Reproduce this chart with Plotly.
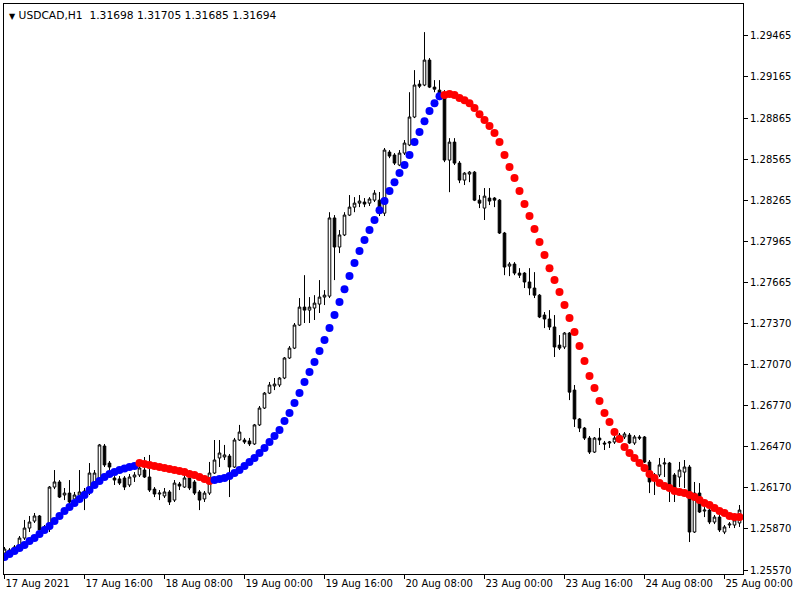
import plotly.graph_objects as go

# ---- data (USDCAD H1, bars indexed from 17 Aug 2021 00:00) ----
opens = [1.25694, 1.25716, 1.25709, 1.25730, 1.25803, 1.25876, 1.25927, 1.25964, 1.25862, 1.25869,
         1.26175, 1.26212, 1.26117, 1.26131, 1.26088, 1.26117, 1.26131, 1.26139, 1.26212, 1.26212,
         1.26474, 1.26350, 1.26241, 1.26234, 1.26241, 1.26190, 1.26248, 1.26263, 1.26299, 1.26248,
         1.26160, 1.26124, 1.26110, 1.26139, 1.26080, 1.26197, 1.26175, 1.26241, 1.26212, 1.26139,
         1.26088, 1.26131, 1.26277, 1.26387, 1.26394, 1.26401, 1.26321, 1.26518, 1.26518, 1.26511,
         1.26489, 1.26628, 1.26751, 1.26860, 1.26912, 1.26919, 1.26970, 1.27116, 1.27188, 1.27356,
         1.27487, 1.27465, 1.27480, 1.27509, 1.27560, 1.27567, 1.28137, 1.27925, 1.28013, 1.28158,
         1.28216, 1.28245, 1.28253, 1.28245, 1.28267, 1.28267, 1.28172, 1.28617, 1.28596, 1.28523,
         1.28610, 1.28669, 1.28873, 1.29113, 1.29106, 1.29288, 1.29091, 1.29069, 1.29047, 1.28559,
         1.28690, 1.28537, 1.28413, 1.28457, 1.28471, 1.28267, 1.28209, 1.28282, 1.28282, 1.28267,
         1.28027, 1.27786, 1.27801, 1.27735, 1.27735, 1.27670, 1.27626, 1.27574, 1.27429, 1.27400,
         1.27342, 1.27210, 1.27196, 1.27298, 1.26882, 1.26671, 1.26605, 1.26532, 1.26430, 1.26532,
         1.26496, 1.26496, 1.26503, 1.26532, 1.26540, 1.26554, 1.26496, 1.26540, 1.26540, 1.26357,
         1.26241, 1.26263, 1.26343, 1.26350, 1.26263, 1.26248, 1.26284, 1.26321, 1.25847, 1.26131,
         1.26000, 1.26007, 1.25920, 1.25956, 1.25847, 1.25898, 1.25898, 1.25913]
highs = [1.25738, 1.25730, 1.25752, 1.25818, 1.25935, 1.25964, 1.25986, 1.25971, 1.25898, 1.26182,
         1.26299, 1.26226, 1.26168, 1.26226, 1.26139, 1.26299, 1.26168, 1.26350, 1.26299, 1.26489,
         1.26489, 1.26365, 1.26255, 1.26255, 1.26255, 1.26270, 1.26284, 1.26350, 1.26394, 1.26409,
         1.26175, 1.26153, 1.26168, 1.26153, 1.26226, 1.26212, 1.26263, 1.26299, 1.26226, 1.26153,
         1.26146, 1.26358, 1.26518, 1.26518, 1.26482, 1.26416, 1.26533, 1.26628, 1.26533, 1.26533,
         1.26635, 1.26766, 1.26868, 1.26941, 1.26970, 1.26977, 1.27123, 1.27203, 1.27371, 1.27553,
         1.27720, 1.27560, 1.27574, 1.27684, 1.27611, 1.28179, 1.28158, 1.28049, 1.28179, 1.28304,
         1.28289, 1.28304, 1.28282, 1.28289, 1.28340, 1.28326, 1.28647, 1.28632, 1.28610, 1.28632,
         1.28705, 1.29054, 1.29215, 1.29142, 1.29492, 1.29303, 1.29142, 1.29142, 1.29069, 1.28719,
         1.28719, 1.28552, 1.28471, 1.28479, 1.28479, 1.28304, 1.28355, 1.28355, 1.28289, 1.28275,
         1.28035, 1.27815, 1.27815, 1.27771, 1.27742, 1.27771, 1.27742, 1.27582, 1.27451, 1.27465,
         1.27429, 1.27283, 1.27305, 1.27305, 1.26919, 1.26678, 1.26613, 1.26547, 1.26540, 1.26605,
         1.26511, 1.26511, 1.26547, 1.26569, 1.26576, 1.26569, 1.26554, 1.26554, 1.26547, 1.26372,
         1.26277, 1.26387, 1.26387, 1.26358, 1.26277, 1.26358, 1.26372, 1.26336, 1.26212, 1.26204,
         1.26029, 1.26029, 1.25971, 1.25971, 1.25898, 1.25920, 1.25949, 1.26044]
lows = [1.25672, 1.25679, 1.25694, 1.25716, 1.25789, 1.25847, 1.25913, 1.25847, 1.25840, 1.25847,
        1.26160, 1.26095, 1.26080, 1.26051, 1.26044, 1.26058, 1.26007, 1.26117, 1.26197, 1.26204,
        1.26321, 1.26277, 1.26190, 1.26190, 1.26153, 1.26175, 1.26212, 1.26248, 1.26241, 1.26139,
        1.26102, 1.26080, 1.26095, 1.26044, 1.26066, 1.26153, 1.26168, 1.26153, 1.26117, 1.26007,
        1.26066, 1.26117, 1.26270, 1.26321, 1.26372, 1.26102, 1.26314, 1.26511, 1.26489, 1.26474,
        1.26482, 1.26620, 1.26744, 1.26853, 1.26882, 1.26904, 1.26962, 1.27109, 1.27181, 1.27349,
        1.27371, 1.27371, 1.27393, 1.27444, 1.27502, 1.27553, 1.27684, 1.27881, 1.28005, 1.28151,
        1.28179, 1.28216, 1.28216, 1.28224, 1.28253, 1.28151, 1.28151, 1.28573, 1.28523, 1.28515,
        1.28596, 1.28661, 1.28865, 1.29084, 1.29098, 1.29084, 1.29054, 1.28996, 1.28544, 1.28325,
        1.28523, 1.28391, 1.28377, 1.28398, 1.28260, 1.28209, 1.28122, 1.28231, 1.28216, 1.28020,
        1.27720, 1.27713, 1.27720, 1.27699, 1.27626, 1.27574, 1.27553, 1.27407, 1.27334, 1.27320,
        1.27123, 1.27174, 1.27181, 1.26809, 1.26613, 1.26576, 1.26518, 1.26416, 1.26423, 1.26482,
        1.26445, 1.26460, 1.26489, 1.26518, 1.26525, 1.26489, 1.26482, 1.26518, 1.26350, 1.26131,
        1.26117, 1.26248, 1.26248, 1.26066, 1.26066, 1.26175, 1.26168, 1.25774, 1.25840, 1.25986,
        1.25956, 1.25905, 1.25905, 1.25847, 1.25832, 1.25876, 1.25876, 1.25884]
closes = [1.25723, 1.25694, 1.25738, 1.25803, 1.25876, 1.25920, 1.25964, 1.25862, 1.25884, 1.26175,
          1.26212, 1.26102, 1.26131, 1.26066, 1.26117, 1.26139, 1.26146, 1.26277, 1.26277, 1.26482,
          1.26336, 1.26321, 1.26226, 1.26204, 1.26175, 1.26248, 1.26263, 1.26314, 1.26248, 1.26153,
          1.26124, 1.26131, 1.26139, 1.26066, 1.26204, 1.26182, 1.26241, 1.26168, 1.26131, 1.26080,
          1.26131, 1.26277, 1.26372, 1.26423, 1.26409, 1.26321, 1.26518, 1.26576, 1.26503, 1.26489,
          1.26628, 1.26751, 1.26860, 1.26919, 1.26926, 1.26970, 1.27116, 1.27188, 1.27356, 1.27487,
          1.27465, 1.27487, 1.27516, 1.27560, 1.27574, 1.28137, 1.27925, 1.28013, 1.28158, 1.28216,
          1.28245, 1.28260, 1.28238, 1.28275, 1.28318, 1.28172, 1.28632, 1.28588, 1.28537, 1.28610,
          1.28683, 1.28873, 1.29106, 1.29098, 1.29288, 1.29091, 1.29076, 1.29047, 1.28559, 1.28690,
          1.28537, 1.28413, 1.28464, 1.28471, 1.28267, 1.28245, 1.28296, 1.28260, 1.28267, 1.28027,
          1.27779, 1.27801, 1.27735, 1.27720, 1.27670, 1.27626, 1.27574, 1.27415, 1.27400, 1.27342,
          1.27196, 1.27188, 1.27298, 1.26867, 1.26671, 1.26605, 1.26532, 1.26430, 1.26532, 1.26518,
          1.26489, 1.26503, 1.26532, 1.26554, 1.26562, 1.26496, 1.26540, 1.26532, 1.26357, 1.26212,
          1.26263, 1.26336, 1.26350, 1.26190, 1.26168, 1.26299, 1.26321, 1.25847, 1.26131, 1.25993,
          1.26007, 1.25920, 1.25956, 1.25862, 1.25884, 1.25905, 1.25935, 1.26007]

ma_values = [1.25665, 1.25687, 1.25709, 1.25730, 1.25752, 1.25781, 1.25803, 1.25832, 1.25862, 1.25891,
             1.25927, 1.25964, 1.26000, 1.26029, 1.26058, 1.26088, 1.26117, 1.26153, 1.26190, 1.26219,
             1.26248, 1.26270, 1.26284, 1.26299, 1.26310, 1.26321, 1.26328,
             1.26350, 1.26343, 1.26336, 1.26328, 1.26321, 1.26314, 1.26306, 1.26299, 1.26292, 1.26284,
             1.26270, 1.26263, 1.26248, 1.26233, 1.26219,
             1.26226, 1.26233, 1.26241, 1.26255, 1.26277, 1.26299, 1.26328, 1.26358, 1.26387, 1.26423,
             1.26460, 1.26503, 1.26547, 1.26591, 1.26657, 1.26715, 1.26788, 1.26860, 1.26941, 1.27014,
             1.27087, 1.27167, 1.27247, 1.27334, 1.27429, 1.27524, 1.27618, 1.27713, 1.27808, 1.27896,
             1.27976, 1.28049, 1.28122, 1.28194, 1.28260, 1.28333, 1.28398, 1.28464, 1.28523, 1.28596,
             1.28690, 1.28763, 1.28843, 1.28916, 1.28974, 1.29025,
             1.29033, 1.29040, 1.29033, 1.29011, 1.28996, 1.28974, 1.28938, 1.28894, 1.28851, 1.28807,
             1.28756, 1.28690, 1.28596, 1.28508, 1.28428, 1.28333, 1.28238, 1.28151, 1.28056, 1.27961,
             1.27866, 1.27771, 1.27684, 1.27597, 1.27502, 1.27407, 1.27305, 1.27203, 1.27094, 1.26984,
             1.26897, 1.26802, 1.26714, 1.26649, 1.26576, 1.26525, 1.26467, 1.26423, 1.26387, 1.26350,
             1.26314, 1.26270, 1.26241, 1.26204, 1.26182, 1.26168, 1.26146, 1.26139, 1.26131, 1.26117,
             1.26102, 1.26080, 1.26058, 1.26044, 1.26022, 1.26000, 1.25986, 1.25964, 1.25956, 1.25956]
# bars where the indicator colour flips (starts "up" = blue)
trend_flip_bars = [27, 42, 88]

x_tick_bars = [0, 16, 32, 48, 64, 80, 96, 112, 128, 144]
x_tick_labels = ["17 Aug 2021", "17 Aug 16:00", "18 Aug 08:00", "19 Aug 00:00", "19 Aug 16:00",
                 "20 Aug 08:00", "23 Aug 00:00", "23 Aug 16:00", "24 Aug 08:00", "25 Aug 00:00"]
y_tick_values = [1.29465, 1.29165, 1.28865, 1.28565, 1.28265, 1.27965, 1.27665, 1.27370,
                 1.27070, 1.26770, 1.26470, 1.26170, 1.25870, 1.25570]

title_text = "USDCAD,H1\u00a0\u00a01.31698 1.31705 1.31685 1.31694"

# ---- build ----
bars = list(range(len(opens)))
colors = []
up = True
for i in bars:
    if i in trend_flip_bars:
        up = not up
    colors.append("#0000FF" if up else "#FF0000")

FONT = "DejaVu Sans"
fig = go.Figure()
fig.add_trace(go.Candlestick(
    x=bars, open=opens, high=highs, low=lows, close=closes,
    increasing=dict(line=dict(color="black", width=1), fillcolor="white"),
    decreasing=dict(line=dict(color="black", width=1), fillcolor="black"),
    whiskerwidth=0, showlegend=False, hoverinfo="skip",
))
fig.add_trace(go.Scatter(
    x=bars, y=ma_values, mode="markers",
    marker=dict(size=8, color=colors, line=dict(width=0)),
    showlegend=False, hoverinfo="skip",
))

fig.add_annotation(
    xref="paper", yref="paper", x=0, y=1, xanchor="left", yanchor="top",
    xshift=3, yshift=-3, showarrow=False,
    text="<span style='font-size:8px'>\u25BC</span> " + title_text,
    font=dict(family=FONT, size=10.7, color="black"),
)

fig.update_layout(
    width=800, height=600,
    margin=dict(l=4, r=57, t=4, b=26),
    paper_bgcolor="white", plot_bgcolor="white",
    font=dict(family=FONT, size=10, color="black"),
    boxgap=0.25,
    xaxis=dict(
        range=[-0.1, 147.7], rangeslider=dict(visible=False),
        tickmode="array", tickvals=x_tick_bars, ticktext=x_tick_labels,
        ticks="outside", ticklen=4, tickcolor="black",
        ticklabelposition="outside right",
        showline=True, linecolor="black", linewidth=1, mirror=True,
        showgrid=False, zeroline=False, fixedrange=True,
    ),
    yaxis=dict(
        range=[1.25541, 1.29697], side="right",
        tickmode="array", tickvals=y_tick_values,
        ticktext=[f"{v:.5f}" for v in y_tick_values],
        ticks="outside", ticklen=4, tickcolor="black",
        showline=True, linecolor="black", linewidth=1, mirror=True,
        showgrid=False, zeroline=False, fixedrange=True,
    ),
)

fig.write_html(
    "out.html",
    config={"displayModeBar": False},
    post_script="document.body.style.margin='0';document.body.style.overflow='hidden';",
)
